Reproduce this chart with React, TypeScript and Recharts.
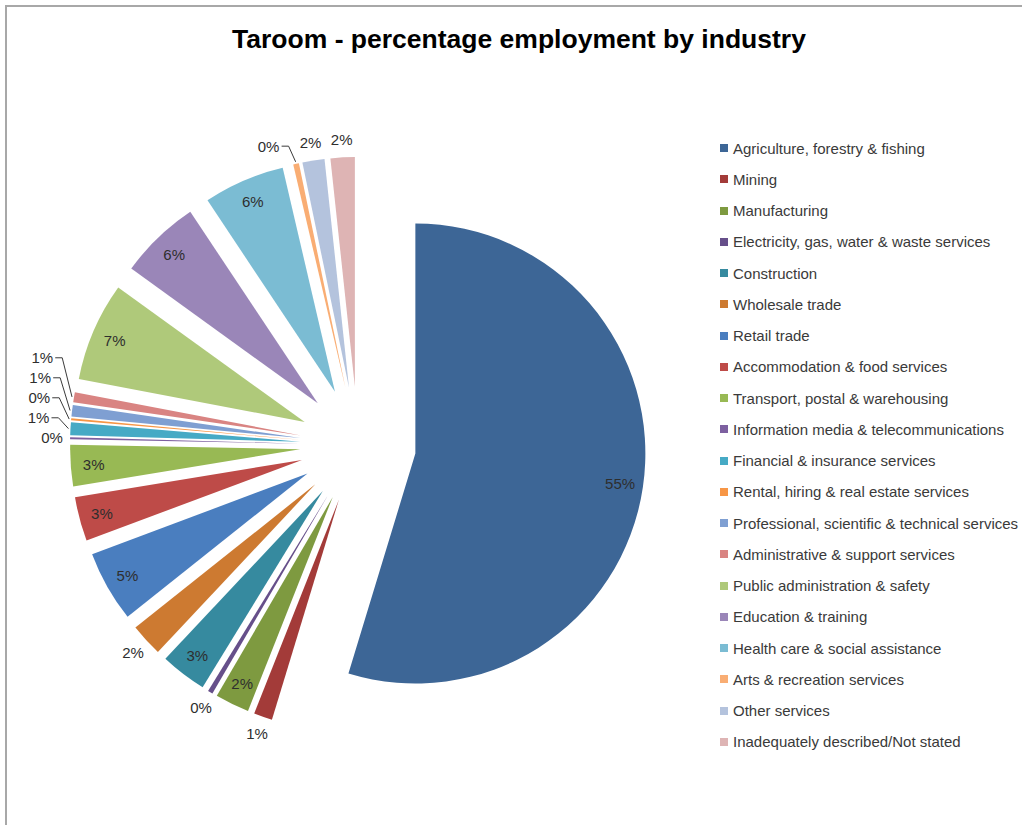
import { PieChart, Pie, Cell, Sector, Legend } from "recharts";

const industries = [
  "Agriculture, forestry & fishing",
  "Mining",
  "Manufacturing",
  "Electricity, gas, water & waste services",
  "Construction",
  "Wholesale trade",
  "Retail trade",
  "Accommodation & food services",
  "Transport, postal & warehousing",
  "Information media & telecommunications",
  "Financial & insurance services",
  "Rental, hiring & real estate services",
  "Professional, scientific & technical services",
  "Administrative & support services",
  "Public administration & safety",
  "Education & training",
  "Health care & social assistance",
  "Arts & recreation services",
  "Other services",
  "Inadequately described/Not stated",
];

// share of employment, %
const shares = [
  54.7, 1.3, 2.4, 0.35, 3.25, 2.3, 5.0, 3.1, 2.9, 0.15, 0.9, 0.15, 0.8, 0.7,
  6.95, 5.7, 5.7, 0.4, 1.55, 1.7,
];

const colors = [
  "#3d6696", "#a33b39", "#7e9a40", "#664f8a", "#368a9f", "#cd7a31",
  "#4a7ebf", "#be4b48", "#98b954", "#7d60a0", "#46aac5", "#f79646",
  "#7f9fd2", "#d98482", "#afc97a", "#9a86b8", "#7bbcd3", "#f9ad73",
  "#b4c3dd", "#deb4b4",
];

const data = industries.map((name, i) => ({ name, value: shares[i] }));

const RADIUS = 230;
const EXPLODE = 58;
const FONT = "'Liberation Sans', Arial, sans-serif";

// every slice is pulled out along its middle angle
function ExplodedSlice(props: any) {
  const rad = (props.midAngle * Math.PI) / 180;
  return (
    <Sector
      {...props}
      cx={props.cx + EXPLODE * Math.cos(rad)}
      cy={props.cy - EXPLODE * Math.sin(rad)}
    />
  );
}

// label spots relative to the pie centre, with a crude overlap pass
function layoutLabels() {
  const total = shares.reduce((a, b) => a + b, 0);
  let acc = 0;
  const spots = shares.map((v) => {
    const mid = 90 - (360 * (acc + v / 2)) / total;
    acc += v;
    const rad = (mid * Math.PI) / 180;
    const dx = Math.cos(rad);
    const dy = -Math.sin(rad);
    const inside = v / total >= 0.0235;
    const dist = inside ? 0.9 * RADIUS : RADIUS + 18;
    const tx = EXPLODE * dx;
    const ty = EXPLODE * dy;
    return {
      x: tx + dist * dx,
      y: ty + dist * dy,
      inside,
      dx,
      dy,
      edgeX: tx + (RADIUS + 2) * dx,
      edgeY: ty + (RADIUS + 2) * dy,
      leader: false,
    };
  });

  const top = spots
    .filter((s) => !s.inside && s.dy < -0.7)
    .sort((a, b) => b.x - a.x);
  for (let k = 1; k < top.length; k++) {
    const lim = top[k - 1].x - 30;
    if (top[k].x > lim) {
      const moved = top[k].x - lim;
      top[k].leader = moved > 4;
      top[k].x = lim - (top[k].leader ? 12 : 0);
    }
  }

  const left = spots
    .filter((s) => !s.inside && s.dx < -0.7)
    .sort((a, b) => b.y - a.y);
  for (let k = 1; k < left.length; k++) {
    const lim = left[k - 1].y - 20;
    if (left[k].y > lim) {
      const moved = left[k].y - lim;
      left[k].y = lim;
      if (moved > 4) {
        left[k].leader = true;
        left[k].x -= 14;
      }
    }
  }
  return spots;
}

const labelSpots = layoutLabels();

function renderLabel(props: any) {
  const spot = labelSpots[props.index];
  const x = props.cx + spot.x;
  const y = props.cy + spot.y;
  const pct = Math.round(props.percent * 100);
  return (
    <g key={"lbl-" + props.index}>
      {spot.leader && (
        <polyline
          points={`${x + 13},${y} ${x + 20},${y} ${props.cx + spot.edgeX},${props.cy + spot.edgeY}`}
          fill="none"
          stroke="#3a3a3a"
          strokeWidth={1}
        />
      )}
      <text
        x={x}
        y={y}
        textAnchor="middle"
        dominantBaseline="central"
        fontFamily={FONT}
        fontSize={15}
        fill="#2e2e2e"
      >
        {pct}%
      </text>
    </g>
  );
}

function LegendList({ payload }: any) {
  const items = [...(payload || [])].sort(
    (a: any, b: any) => industries.indexOf(a.value) - industries.indexOf(b.value)
  );
  return (
    <ul style={{ listStyle: "none", margin: 0, padding: 0 }}>
      {items.map((item: any) => (
        <li
          key={item.value}
          style={{
            height: 31.26,
            display: "flex",
            alignItems: "center",
            fontFamily: FONT,
            fontSize: 15,
            color: "#3a3a3a",
            whiteSpace: "nowrap",
          }}
        >
          <span
            style={{
              display: "inline-block",
              width: 8,
              height: 8,
              background: item.color,
              marginRight: 5,
            }}
          />
          {item.value}
        </li>
      ))}
    </ul>
  );
}

export default function App() {
  return (
    <div
      style={{
        position: "absolute",
        left: 0,
        top: 0,
        width: 1022,
        height: 825,
        background: "#fff",
        overflow: "hidden",
      }}
    >
      <div
        style={{
          position: "absolute",
          left: 5,
          top: 5,
          right: 0,
          bottom: 0,
          borderTop: "2px solid #a8a8a8",
          borderLeft: "2px solid #a8a8a8",
        }}
      />
      <div
        style={{
          position: "absolute",
          left: 0,
          top: 24,
          width: 1038,
          textAlign: "center",
          fontFamily: FONT,
          fontWeight: "bold",
          fontSize: 26.5,
          color: "#000",
        }}
      >
        Taroom - percentage employment by industry
      </div>
      <div style={{ position: "absolute", left: 0, top: 0 }}>
        <PieChart
          width={1022}
          height={825}
          margin={{ top: 0, right: 0, bottom: 0, left: 0 }}
        >
          <Pie
            data={data}
            dataKey="value"
            nameKey="name"
            cx={358}
            cy={445}
            outerRadius={RADIUS}
            startAngle={90}
            endAngle={-270}
            stroke="none"
            shape={ExplodedSlice}
            label={renderLabel}
            labelLine={false}
            isAnimationActive={false}
          >
            {data.map((d, i) => (
              <Cell key={d.name} fill={colors[i]} />
            ))}
          </Pie>
          <Legend
            layout="vertical"
            align="right"
            verticalAlign="top"
            content={<LegendList />}
            wrapperStyle={{ left: 720, top: 132.4, width: 300 }}
          />
        </PieChart>
      </div>
    </div>
  );
}
